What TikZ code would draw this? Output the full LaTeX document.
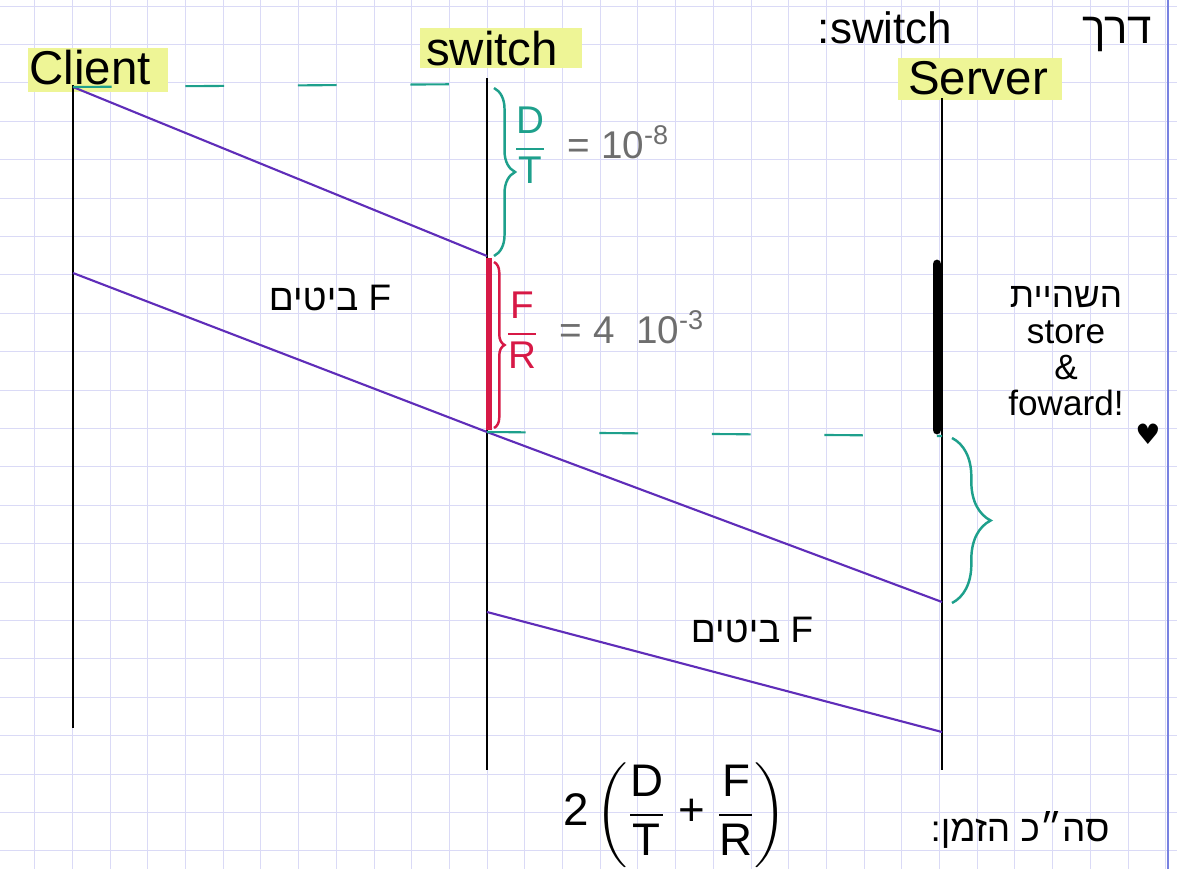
\documentclass[tikz,border=0pt]{standalone}
\usepackage{amsmath}
\usepackage{fontspec}
\setmainfont{Liberation Sans}
\newfontfamily\hebfont[Script=Hebrew]{Liberation Sans}
\newfontfamily\symfont{DejaVu Sans}
\TeXXeTstate=1
\usepackage{tikz}
\usetikzlibrary{calc,decorations.pathreplacing}
\definecolor{GridBlue}{RGB}{218,218,246}
\definecolor{MarginBlue}{RGB}{120,130,225}
\definecolor{TLTeal}{RGB}{30,160,140}
\definecolor{TLPurple}{RGB}{95,45,185}
\definecolor{TLRed}{RGB}{215,25,70}
\definecolor{TLGray}{RGB}{110,110,110}
\definecolor{HiYellow}{RGB}{238,245,150}

\begin{document}
\begin{tikzpicture}[
    x=0.02cm, y=-0.02cm,
    gridline/.style={GridBlue, line width=0.5pt},
    tlline/.style={black, line width=1.3pt},
    tlmsg/.style={TLPurple, line width=1.2pt},
    tldash/.style={TLTeal, line width=1.2pt, dash pattern=on 22 off 42},
    tlbrace/.style={decorate, decoration={brace, amplitude=#1}, line width=1.4pt},
    hilite/.style={fill=HiYellow, draw=none},
    endlabel/.style={font=\fontsize{27}{30}\selectfont},
    notelabel/.style={font=\fontsize{21}{24}\selectfont, align=center}
  ]

  \useasboundingbox[fill=white] (0,0) rectangle (1177,869);

  % grid paper
  \foreach \k in {0,...,31}
    \draw[gridline] ({-3+37.7*\k},0) -- ({-3+37.7*\k},869);
  \foreach \k in {0,...,22}
    \draw[gridline] (0,{6+38.4*\k}) -- (1177,{6+38.4*\k});
  \draw[MarginBlue, line width=1pt] (1168,0) -- (1168,869);

  % highlighted end point names
  \fill[hilite] (28,48) rectangle (168,92);
  \fill[hilite] (420,28) rectangle (582,68);
  \fill[hilite] (898,58) rectangle (1062,100);
  \node[endlabel] (client) at (90,68) {Client};
  \node[endlabel] (switch) at (492,49) {switch};
  \node[endlabel] (server) at (978,78) {Server};

  % time lines
  \coordinate (cTop) at (73,85);
  \coordinate (cBot) at (73,728);
  \coordinate (sTop) at (487,78);
  \coordinate (sBot) at (487,770);
  \coordinate (vTop) at (942,98);
  \coordinate (vBot) at (942,770);
  \draw[tlline] (cTop) -- (cBot);
  \draw[tlline] (sTop) -- (sBot);
  \draw[tlline] (vTop) -- (vBot);

  % message edges
  \coordinate (m1a) at (73,87);
  \coordinate (m1b) at (487,256);
  \coordinate (m2a) at (73,273);
  \coordinate (m2b) at (487,432);
  \coordinate (m3a) at (487,432);
  \coordinate (m3b) at (942,602);
  \coordinate (m4a) at (487,612);
  \coordinate (m4b) at (942,732);
  \draw[tlmsg] (m1a) -- (m1b);
  \draw[tlmsg] (m2a) -- (m2b);
  \draw[tlmsg] (m3a) -- (m3b);
  \draw[tlmsg] (m4a) -- (m4b);

  \draw[tldash] (m1a) -- ($(sTop)+(0,6)$);
  \draw[tldash] (m2b) -- (942,436);

  % store and forward at the switch
  \draw[TLRed, line width=3pt] (489,258) -- (489,430);
  \draw[black, line width=5pt, line cap=round] (937,264) -- (937,430);

  % braces
  \draw[tlbrace=12, TLTeal] (494,88) -- (494,256);
  \draw[tlbrace=6, TLRed] (494,262) -- (494,428);
  \draw[tlbrace=22, TLTeal] (952,438) -- (952,603);

  \node[font=\fontsize{22}{24}\selectfont, anchor=west] (dt) at (508,145)
    {\color{TLTeal}$\dfrac{\text{D}}{\text{T}}$\color{TLGray}\ \ = 10$^{\text{-8}}$};
  \node[font=\fontsize{22}{24}\selectfont, anchor=west] (fr) at (500,330)
    {\color{TLRed}$\dfrac{\text{F}}{\text{R}}$\color{TLGray}\ \ = 4 \ 10$^{\text{-3}}$};

  \node[notelabel] (bits1) at (330,298) {\hebfont\beginR F ביטים\endR};
  \node[notelabel] (bits2) at (752,630) {\hebfont\beginR F ביטים\endR};

  % notes
  \node[notelabel, font=\fontsize{25}{28}\selectfont] (via) at (985,32)
    {\hebfont\beginR דרך\hspace{2.6cm}\beginL switch\endL:\endR};
  \node[notelabel, font=\fontsize{20}{20.5}\selectfont] (sf) at (1066,351)
    {\hebfont\beginR השהיית\endR\\store\\\&\\foward!};
  \node[font=\symfont\fontsize{16}{18}\selectfont] (heart) at (1148,434) {♥};

  \node[font=\fontsize{26}{28}\selectfont] (total) at (675,815)
    {$\text{2}\left(\dfrac{\text{D}}{\text{T}}\text{ + }\dfrac{\text{F}}{\text{R}}\right)$};
  \node[notelabel] (sum) at (1020,830) {\hebfont\beginR סה״כ הזמן:\endR};

\end{tikzpicture}
\end{document}
